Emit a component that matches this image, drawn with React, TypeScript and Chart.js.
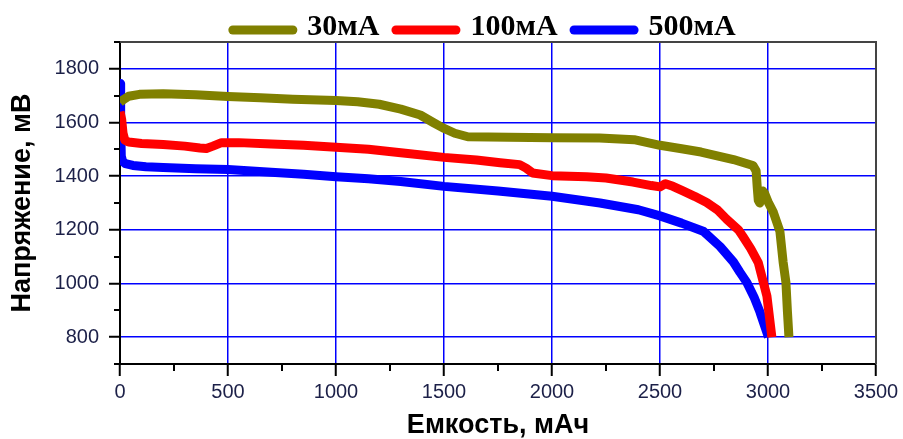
import React, { useEffect, useRef } from 'react';
import { Chart, registerables } from 'chart.js';

Chart.register(...registerables);

// ---- data ----
const seriesLabels = ['30мА', '100мА', '500мА'];
const seriesColors = ['#808000', '#ff0000', '#0000ff'];

const cap30 = [0, 15, 40, 90, 200, 350, 500, 650, 800, 1000, 1100, 1200, 1300, 1390, 1450, 1495, 1550, 1610, 1800, 2000, 2220, 2380, 2500, 2600, 2690, 2840, 2930, 2945, 2950, 2955, 2962, 2975, 2985, 3000, 3025, 3055, 3070, 3083, 3090, 3097];
const volt30 = [1675, 1685, 1698, 1705, 1707, 1703, 1697, 1692, 1687, 1682, 1677, 1668, 1650, 1628, 1600, 1580, 1560, 1547, 1545, 1543, 1542, 1536, 1515, 1502, 1490, 1462, 1440, 1420, 1360, 1310, 1300, 1345, 1335, 1305, 1265, 1195, 1080, 1004, 895, 800];

const cap100 = [0, 8, 14, 22, 40, 100, 200, 300, 370, 400, 430, 470, 550, 700, 850, 1000, 1150, 1300, 1500, 1650, 1760, 1850, 1880, 1910, 2000, 2160, 2250, 2375, 2460, 2500, 2525, 2560, 2606, 2660, 2716, 2765, 2808, 2863, 2884, 2920, 2955, 2995, 3018];
const volt100 = [1640, 1610, 1560, 1535, 1527, 1522, 1518, 1512, 1505, 1503, 1512, 1525, 1525, 1520, 1515, 1508, 1500, 1487, 1470, 1460, 1450, 1443, 1430, 1412, 1402, 1398, 1393, 1378, 1365, 1360, 1372, 1362, 1345, 1325, 1302, 1275, 1240, 1200, 1175, 1130, 1078, 953, 800];

const cap500 = [0, 3, 6, 12, 25, 60, 120, 200, 350, 500, 700, 850, 1000, 1150, 1300, 1500, 1750, 2000, 2222, 2400, 2500, 2600, 2700, 2778, 2840, 2870, 2902, 2935, 2963, 2985, 3002];
const volt500 = [1745, 1600, 1475, 1455, 1447, 1440, 1435, 1432, 1428, 1425, 1415, 1407, 1398, 1390, 1380, 1362, 1345, 1325, 1300, 1275, 1252, 1225, 1195, 1138, 1080, 1042, 1004, 950, 893, 840, 800];

const seriesX = [cap30, cap100, cap500];
const seriesY = [volt30, volt100, volt500];

const xMajorTicks = [0, 500, 1000, 1500, 2000, 2500, 3000, 3500];
const xMinorTicks = [250, 750, 1250, 1750, 2250, 2750, 3250];
const yMajorTicks = [800, 1000, 1200, 1400, 1600, 1800];
const yMinorTicks = [700, 900, 1100, 1300, 1500, 1700, 1900];

const xMin = 0;
const xMax = 3500;
const yMin = 700;
const yMax = 1900;

const xTitle = 'Емкость, мАч';
const yTitle = 'Напряжение, мВ';

const SANS = '"Liberation Sans", Arial, sans-serif';
const SERIF = '"Liberation Serif", "Times New Roman", serif';
const TICK_COLOR = '#1c2048';
const GRID_BLUE = '#0000ff';

const extrasPlugin = {
  id: 'extras',
  afterDraw(chart: any) {
    const { ctx, chartArea, scales } = chart;
    const x = scales.x;
    const y = scales.y;
    ctx.save();
    // minor ticks
    ctx.strokeStyle = '#000';
    ctx.lineWidth = 2;
    ctx.beginPath();
    xMinorTicks.forEach((v) => {
      const px = Math.round(x.getPixelForValue(v));
      ctx.moveTo(px, chartArea.bottom);
      ctx.lineTo(px, chartArea.bottom + 7);
    });
    yMinorTicks.forEach((v) => {
      const py = Math.round(y.getPixelForValue(v));
      ctx.moveTo(chartArea.left - 6, py);
      ctx.lineTo(chartArea.left, py);
    });
    ctx.stroke();
    // top / right frame
    ctx.strokeStyle = '#444';
    ctx.lineWidth = 2;
    ctx.beginPath();
    ctx.moveTo(chartArea.left, chartArea.top);
    ctx.lineTo(chartArea.right, chartArea.top);
    ctx.lineTo(chartArea.right, chartArea.bottom);
    ctx.stroke();

    // legend
    const ds = chart.data.datasets;
    ctx.font = `bold 30px ${SERIF}`;
    const boxW = 69;
    const boxH = 9;
    const textGap = 10;
    const itemGap = 12;
    const widths = ds.map((d: any) => ctx.measureText(d.label).width);
    const total = widths.reduce((a: number, w: number) => a + boxW + textGap + w, 0) + itemGap * (ds.length - 1);
    let cx = 482 - total / 2;
    const lineY = 30;
    ds.forEach((d: any, i: number) => {
      ctx.fillStyle = d.borderColor;
      ctx.beginPath();
      (ctx as any).roundRect(cx, lineY - boxH / 2, boxW, boxH, boxH / 2);
      ctx.fill();
      cx += boxW + textGap;
      ctx.fillStyle = '#000';
      ctx.textBaseline = 'alphabetic';
      ctx.textAlign = 'left';
      ctx.fillText(d.label, cx, 35);
      cx += widths[i] + itemGap;
    });
    ctx.restore();
  },
};

export default function App() {
  const ref = useRef<HTMLCanvasElement>(null);
  useEffect(() => {
    const canvas = ref.current;
    if (!canvas) return;
    const chart = new Chart(canvas, {
      type: 'line',
      data: {
        datasets: seriesLabels.map((label, i) => ({
          label,
          data: seriesX[i].map((xv, j) => ({ x: xv, y: seriesY[i][j] })),
          borderColor: seriesColors[i],
          backgroundColor: seriesColors[i],
          borderWidth: 9,
          pointRadius: 0,
          pointHoverRadius: 0,
          tension: 0,
          borderJoinStyle: 'round',
          borderCapStyle: 'butt',
          fill: false,
        })),
      },
      options: {
        animation: false,
        responsive: false,
        events: [],
        layout: { padding: { top: 42, right: 27, left: 0, bottom: 0 } },
        plugins: {
          legend: { display: false },
          tooltip: { enabled: false },
        },
        scales: {
          x: {
            type: 'linear',
            min: xMin,
            max: xMax,
            afterBuildTicks: (s: any) => {
              s.ticks = xMajorTicks.map((v) => ({ value: v }));
            },
            afterFit: (s: any) => {
              s.height = 75;
            },
            ticks: {
              autoSkip: false,
              maxRotation: 0,
              padding: 4,
              color: TICK_COLOR,
              font: { family: SANS, size: 20 },
              callback: (v: any) => String(v),
            },
            grid: {
              color: (c: any) =>
                c.tick && c.tick.value > xMin && c.tick.value < xMax ? GRID_BLUE : 'rgba(0,0,0,0)',
              lineWidth: 1.5,
              tickLength: 12,
              tickWidth: 2,
              tickColor: '#000',
            },
            border: { color: '#000', width: 2 },
            title: {
              display: true,
              text: xTitle,
              color: '#000',
              font: { family: SANS, size: 27, weight: 'bold', lineHeight: 1 },
              padding: { top: 0, bottom: 0 },
            },
          },
          y: {
            type: 'linear',
            min: yMin,
            max: yMax,
            afterBuildTicks: (s: any) => {
              s.ticks = yMajorTicks.map((v) => ({ value: v }));
            },
            afterFit: (s: any) => {
              s.width = 120;
            },
            ticks: {
              autoSkip: false,
              padding: 10,
              color: TICK_COLOR,
              font: { family: SANS, size: 20 },
              callback: (v: any) => String(v),
            },
            grid: {
              color: GRID_BLUE,
              lineWidth: 1.5,
              tickLength: 11,
              tickWidth: 2,
              tickColor: '#000',
            },
            border: { color: '#000', width: 2 },
            title: {
              display: true,
              text: yTitle,
              color: '#000',
              font: { family: SANS, size: 27, weight: 'bold', lineHeight: 1 },
              padding: { top: 9, bottom: 0 },
            },
          },
        },
      } as any,
      plugins: [extrasPlugin],
    });
    return () => chart.destroy();
  }, []);

  return (
    <div style={{ position: 'fixed', left: 0, top: 0, width: 903, height: 439, background: '#fff' }}>
      <canvas ref={ref} width={903} height={439} style={{ display: 'block', width: 903, height: 439 }} />
    </div>
  );
}
